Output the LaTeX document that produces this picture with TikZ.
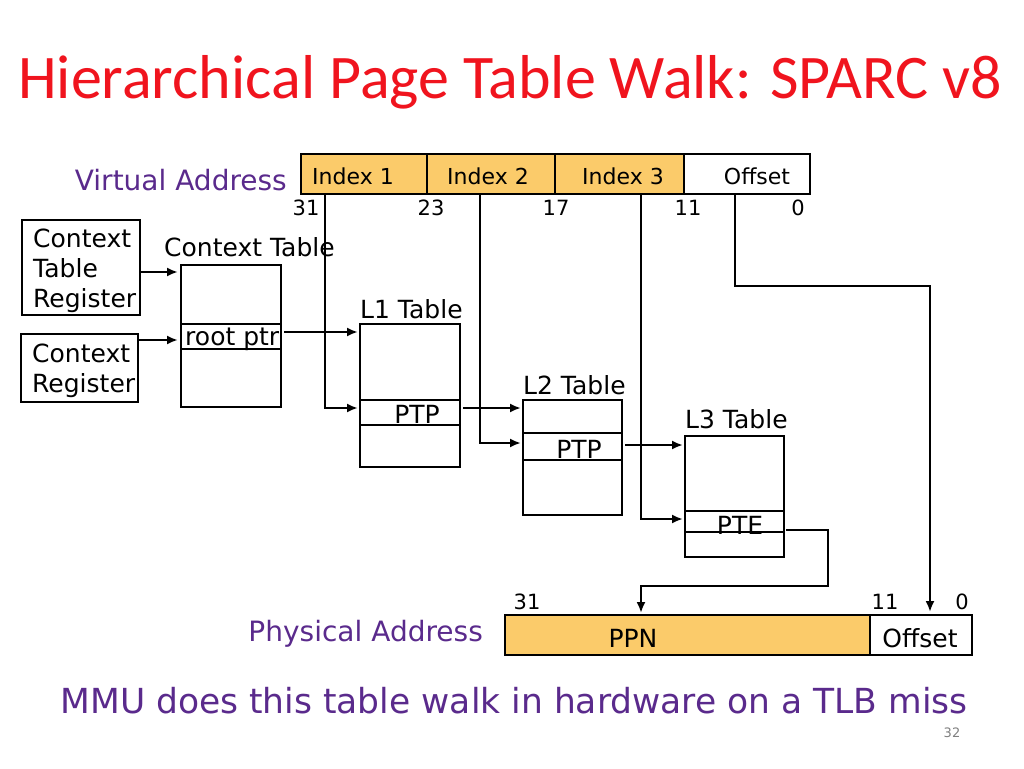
\documentclass[tikz,border=0pt]{standalone}
\usepackage{fontspec}
\setmainfont{DejaVu Sans}
\newfontfamily\titlefont{Carlito}
\usetikzlibrary{arrows.meta}
\definecolor{gold}{HTML}{FBCB6A}
\definecolor{purp}{HTML}{5A2A8C}
\definecolor{tred}{HTML}{F0141E}
\begin{document}
\begin{tikzpicture}[x=1pt,y=-1pt,
  box/.style={draw=black,line width=2.5pt},
  lab/.style={font=\fontsize{22}{22}\selectfont,inner sep=0pt},
  nlab/.style={font=\fontsize{21}{21}\selectfont,inner sep=0pt},
  tlab/.style={font=\fontsize{25}{25}\selectfont,inner sep=0pt,anchor=west},
  plab/.style={font=\fontsize{28}{28}\selectfont,inner sep=0pt,text=purp},
  arr/.style={line width=2.5pt,-{Latex[length=11pt,width=9pt]}}]
\useasboundingbox (0,0) rectangle (1024,768);
\node[inner sep=0pt,anchor=west,text=tred,font=\titlefont\fontsize{62}{62}\selectfont] (title) at (18,82) {Hierarchical Page Table Walk: SPARC v8};
% virtual address
\node[plab,anchor=east] (va) at (287,180) {Virtual Address};
\draw[box,fill=gold] (301,154) rectangle (684,194);
\draw[box,fill=white] (684,154) rectangle (810,194);
\draw[line width=2.5pt] (427,154) -- (427,194) (555,154) -- (555,194);
\node[lab] (i1) at (353,176) {Index 1};
\node[lab] (i2) at (488,176) {Index 2};
\node[lab] (i3) at (623,176) {Index 3};
\node[lab] (off) at (757,176) {Offset};
\node[nlab] at (306,208) {31};
\node[nlab] at (431,208) {23};
\node[nlab] at (556,208) {17};
\node[nlab] at (688,208) {11};
\node[nlab] at (798,208) {0};
\coordinate (i1b) at (325,194);
\coordinate (i2b) at (480,194);
\coordinate (i3b) at (641,194);
\coordinate (ofb) at (735,194);
% context registers
\draw[box] (22,220) rectangle (140,315);
\node[font=\fontsize{25}{30}\selectfont,align=left,anchor=north west,inner sep=0pt] (ctr) at (33,229) {Context\\Table\\Register};
\draw[box] (21,334) rectangle (138,402);
\node[font=\fontsize{25}{30}\selectfont,align=left,anchor=north west,inner sep=0pt] (cr) at (32,344) {Context\\Register};
% context table
\node[tlab] (ctl) at (164,247) {Context Table};
\draw[box] (181,265) rectangle (281,407);
\draw[line width=2.5pt] (181,324) -- (281,324) (181,349) -- (281,349);
\node[tlab,anchor=west] (root) at (185,339) {root ptr};
\draw[arr] (140,272) -- (178,272);
\draw[arr] (138,340) -- (178,340);
% L1
\node[tlab] (l1l) at (360,309) {L1 Table};
\draw[box] (360,324) rectangle (460,467);
\draw[line width=2.5pt] (360,400) -- (460,400) (360,425) -- (460,425);
\node[tlab,anchor=center] (ptp1) at (417,414) {PTP};
\draw[arr] (284,332) -- (358,332);
\draw[arr] (i1b) |- (358,408);
% L2
\node[tlab] (l2l) at (523,385) {L2 Table};
\draw[box] (523,400) rectangle (622,515);
\draw[line width=2.5pt] (523,433) -- (622,433) (523,460) -- (622,460);
\node[tlab,anchor=center] (ptp2) at (579,449) {PTP};
\draw[arr] (463,408) -- (521,408);
\draw[arr] (i2b) |- (521,443);
% L3
\node[tlab] (l3l) at (685,419) {L3 Table};
\draw[box] (685,436) rectangle (784,557);
\draw[line width=2.5pt] (685,511) -- (784,511) (685,532) -- (784,532);
\node[tlab,anchor=center] (pte) at (740,525) {PTE};
\draw[arr] (625,445) -- (683,445);
\draw[arr] (i3b) |- (683,519);
% physical address
\node[plab,anchor=east] (pa) at (483,634) {Physical Address};
\draw[box,fill=gold] (505,615) rectangle (870,655);
\draw[box,fill=white] (870,615) rectangle (972,655);
\node[tlab,anchor=center] (ppn) at (633,638) {PPN};
\node[tlab,anchor=center] (poff) at (920,638) {Offset};
\node[nlab] at (527,602) {31};
\node[nlab] at (885,602) {11};
\node[nlab] at (962,602) {0};
\draw[arr] (786,530) -- (828,530) -- (828,586) -- (641,586) -- (641,613);
\draw[arr] (ofb) -- (735,286) -- (930,286) -- (930,612);
% footer
\node[plab,font=\fontsize{34.5}{34.5}\selectfont] (mmu) at (514,701) {MMU does this table walk in hardware on a TLB miss};
\node[inner sep=0pt,text=gray,font=\fontsize{13}{13}\selectfont] (pg) at (952,733) {32};
\end{tikzpicture}
\end{document}
